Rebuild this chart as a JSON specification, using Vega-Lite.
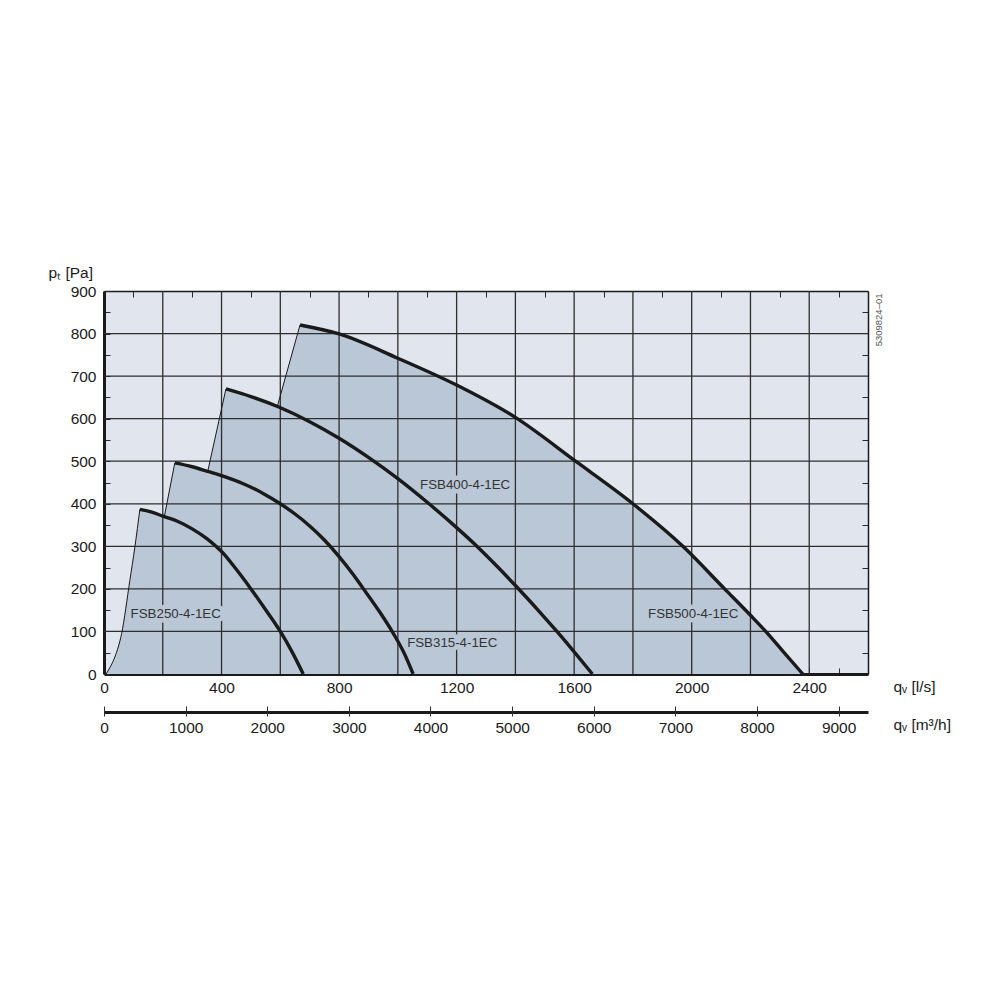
{
 "$schema": "https://vega.github.io/schema/vega-lite/v6.json",
 "autosize": {"type": "none"},
 "padding": {"left": 104, "top": 291, "right": 132, "bottom": 326},
 "width": 764,
 "height": 383,
 "background": "#ffffff",
 "config": {
  "view": {"fill": "#e1e6ee", "stroke": null},
  "font": "Liberation Sans",
  "axis": {"labelFont": "Liberation Sans", "labelFontSize": 15.5, "labelColor": "#1a1a1a", "titleFont": "Liberation Sans", "titleFontSize": 15.5, "titleFontWeight": "normal", "titleColor": "#1a1a1a", "domainColor": "#1a1a1a", "tickColor": "#2a2a2a", "tickWidth": 1, "grid": false, "labelOverlap": false, "labelBound": false, "labelFlush": false, "zindex": 1, "format": "d"}
 },
 "datasets": {
  "fills": [
   {"fan": "FSB250", "q": 7, "p": 0}, {"fan": "FSB250", "q": 20, "p": 15}, {"fan": "FSB250", "q": 37, "p": 40}, {"fan": "FSB250", "q": 60, "p": 95}, {"fan": "FSB250", "q": 88, "p": 220}, {"fan": "FSB250", "q": 105, "p": 298}, {"fan": "FSB250", "q": 122, "p": 387}, {"fan": "FSB250", "q": 160, "p": 381}, {"fan": "FSB250", "q": 200, "p": 371}, {"fan": "FSB250", "q": 250, "p": 359}, {"fan": "FSB250", "q": 300, "p": 341}, {"fan": "FSB250", "q": 350, "p": 318}, {"fan": "FSB250", "q": 381, "p": 300}, {"fan": "FSB250", "q": 400, "p": 288}, {"fan": "FSB250", "q": 450, "p": 246}, {"fan": "FSB250", "q": 500, "p": 200}, {"fan": "FSB250", "q": 550, "p": 151}, {"fan": "FSB250", "q": 600, "p": 100}, {"fan": "FSB250", "q": 640, "p": 52}, {"fan": "FSB250", "q": 678, "p": 0},
   {"fan": "FSB315", "q": 99, "p": 0}, {"fan": "FSB315", "q": 241, "p": 496}, {"fan": "FSB315", "q": 300, "p": 487}, {"fan": "FSB315", "q": 349, "p": 477}, {"fan": "FSB315", "q": 400, "p": 466}, {"fan": "FSB315", "q": 474, "p": 447}, {"fan": "FSB315", "q": 540, "p": 425}, {"fan": "FSB315", "q": 600, "p": 400}, {"fan": "FSB315", "q": 650, "p": 376}, {"fan": "FSB315", "q": 700, "p": 348}, {"fan": "FSB315", "q": 750, "p": 315}, {"fan": "FSB315", "q": 800, "p": 276}, {"fan": "FSB315", "q": 850, "p": 232}, {"fan": "FSB315", "q": 880, "p": 203}, {"fan": "FSB315", "q": 939, "p": 145}, {"fan": "FSB315", "q": 984, "p": 96}, {"fan": "FSB315", "q": 1020, "p": 51}, {"fan": "FSB315", "q": 1052, "p": 0},
   {"fan": "FSB400", "q": 200, "p": 0}, {"fan": "FSB400", "q": 415, "p": 670}, {"fan": "FSB400", "q": 500, "p": 652}, {"fan": "FSB400", "q": 593, "p": 628}, {"fan": "FSB400", "q": 700, "p": 593}, {"fan": "FSB400", "q": 800, "p": 554}, {"fan": "FSB400", "q": 900, "p": 509}, {"fan": "FSB400", "q": 1000, "p": 459}, {"fan": "FSB400", "q": 1106, "p": 400}, {"fan": "FSB400", "q": 1200, "p": 344}, {"fan": "FSB400", "q": 1268, "p": 301}, {"fan": "FSB400", "q": 1335, "p": 255}, {"fan": "FSB400", "q": 1400, "p": 208}, {"fan": "FSB400", "q": 1480, "p": 148}, {"fan": "FSB400", "q": 1545, "p": 97}, {"fan": "FSB400", "q": 1605, "p": 48}, {"fan": "FSB400", "q": 1662, "p": 0},
   {"fan": "FSB500", "q": 336, "p": 0}, {"fan": "FSB500", "q": 667, "p": 820}, {"fan": "FSB500", "q": 800, "p": 799}, {"fan": "FSB500", "q": 1000, "p": 742}, {"fan": "FSB500", "q": 1200, "p": 679}, {"fan": "FSB500", "q": 1400, "p": 603}, {"fan": "FSB500", "q": 1605, "p": 500}, {"fan": "FSB500", "q": 1800, "p": 400}, {"fan": "FSB500", "q": 1970, "p": 300}, {"fan": "FSB500", "q": 2112, "p": 200}, {"fan": "FSB500", "q": 2200, "p": 138}, {"fan": "FSB500", "q": 2248, "p": 103}, {"fan": "FSB500", "q": 2310, "p": 54}, {"fan": "FSB500", "q": 2378, "p": 0}
  ],
  "curves": [
   {"fan": "FSB250", "q": 122, "p": 387}, {"fan": "FSB250", "q": 160, "p": 381}, {"fan": "FSB250", "q": 200, "p": 371}, {"fan": "FSB250", "q": 250, "p": 359}, {"fan": "FSB250", "q": 300, "p": 341}, {"fan": "FSB250", "q": 350, "p": 318}, {"fan": "FSB250", "q": 381, "p": 300}, {"fan": "FSB250", "q": 400, "p": 288}, {"fan": "FSB250", "q": 450, "p": 246}, {"fan": "FSB250", "q": 500, "p": 200}, {"fan": "FSB250", "q": 550, "p": 151}, {"fan": "FSB250", "q": 600, "p": 100}, {"fan": "FSB250", "q": 640, "p": 52}, {"fan": "FSB250", "q": 678, "p": 0},
   {"fan": "FSB315", "q": 241, "p": 496}, {"fan": "FSB315", "q": 300, "p": 487}, {"fan": "FSB315", "q": 349, "p": 477}, {"fan": "FSB315", "q": 400, "p": 466}, {"fan": "FSB315", "q": 474, "p": 447}, {"fan": "FSB315", "q": 540, "p": 425}, {"fan": "FSB315", "q": 600, "p": 400}, {"fan": "FSB315", "q": 650, "p": 376}, {"fan": "FSB315", "q": 700, "p": 348}, {"fan": "FSB315", "q": 750, "p": 315}, {"fan": "FSB315", "q": 800, "p": 276}, {"fan": "FSB315", "q": 850, "p": 232}, {"fan": "FSB315", "q": 880, "p": 203}, {"fan": "FSB315", "q": 939, "p": 145}, {"fan": "FSB315", "q": 984, "p": 96}, {"fan": "FSB315", "q": 1020, "p": 51}, {"fan": "FSB315", "q": 1052, "p": 0},
   {"fan": "FSB400", "q": 415, "p": 670}, {"fan": "FSB400", "q": 500, "p": 652}, {"fan": "FSB400", "q": 593, "p": 628}, {"fan": "FSB400", "q": 700, "p": 593}, {"fan": "FSB400", "q": 800, "p": 554}, {"fan": "FSB400", "q": 900, "p": 509}, {"fan": "FSB400", "q": 1000, "p": 459}, {"fan": "FSB400", "q": 1106, "p": 400}, {"fan": "FSB400", "q": 1200, "p": 344}, {"fan": "FSB400", "q": 1268, "p": 301}, {"fan": "FSB400", "q": 1335, "p": 255}, {"fan": "FSB400", "q": 1400, "p": 208}, {"fan": "FSB400", "q": 1480, "p": 148}, {"fan": "FSB400", "q": 1545, "p": 97}, {"fan": "FSB400", "q": 1605, "p": 48}, {"fan": "FSB400", "q": 1662, "p": 0},
   {"fan": "FSB500", "q": 667, "p": 820}, {"fan": "FSB500", "q": 800, "p": 799}, {"fan": "FSB500", "q": 1000, "p": 742}, {"fan": "FSB500", "q": 1200, "p": 679}, {"fan": "FSB500", "q": 1400, "p": 603}, {"fan": "FSB500", "q": 1605, "p": 500}, {"fan": "FSB500", "q": 1800, "p": 400}, {"fan": "FSB500", "q": 1970, "p": 300}, {"fan": "FSB500", "q": 2112, "p": 200}, {"fan": "FSB500", "q": 2200, "p": 138}, {"fan": "FSB500", "q": 2248, "p": 103}, {"fan": "FSB500", "q": 2310, "p": 54}, {"fan": "FSB500", "q": 2378, "p": 0}
  ],
  "edges": [
   {"fan": "FSB250", "q": 7, "p": 0}, {"fan": "FSB250", "q": 20, "p": 15}, {"fan": "FSB250", "q": 37, "p": 40}, {"fan": "FSB250", "q": 60, "p": 95}, {"fan": "FSB250", "q": 88, "p": 220}, {"fan": "FSB250", "q": 105, "p": 298}, {"fan": "FSB250", "q": 122, "p": 387},
   {"fan": "FSB315", "q": 205, "p": 369}, {"fan": "FSB315", "q": 241, "p": 496},
   {"fan": "FSB400", "q": 353, "p": 476}, {"fan": "FSB400", "q": 415, "p": 670},
   {"fan": "FSB500", "q": 590, "p": 629}, {"fan": "FSB500", "q": 667, "p": 820}
  ],
  "labels": [
   {"name": "FSB250-4-1EC", "q": 244, "p": 140},
   {"name": "FSB315-4-1EC", "q": 1185, "p": 74},
   {"name": "FSB400-4-1EC", "q": 1229, "p": 444},
   {"name": "FSB500-4-1EC", "q": 2005, "p": 142}
  ],
  "gridx": [{"q": 200}, {"q": 400}, {"q": 600}, {"q": 800}, {"q": 1000}, {"q": 1200}, {"q": 1400}, {"q": 1600}, {"q": 1800}, {"q": 2000}, {"q": 2200}, {"q": 2400}],
  "gridy": [{"p": 100}, {"p": 200}, {"p": 300}, {"p": 400}, {"p": 500}, {"p": 600}, {"p": 700}, {"p": 800}],
  "m3h": [{"m3h": 0}, {"m3h": 9360}]
 },
 "layer": [
  {
   "layer": [
    {
     "data": {"name": "fills"},
     "mark": {"type": "area", "fill": "#bac7d6", "stroke": null},
     "encoding": {
      "x": {"field": "q", "type": "quantitative", "scale": {"domain": [0, 2600], "nice": false, "zero": false},
       "axis": {"orient": "bottom", "values": [0,100,200,300,400,500,600,700,800,900,1000,1100,1200,1300,1400,1500,1600,1700,1800,1900,2000,2100,2200,2300,2400,2500,2600], "labelExpr": "datum.value % 400 === 0 ? datum.label : ''", "tickSize": -6, "domainWidth": 3, "labelPadding": 12, "title": "qᵥ [l/s]", "titleAngle": 0, "titleAlign": "left", "titleBaseline": "middle", "titleX": 789, "titleY": 12}},
      "y": {"field": "p", "type": "quantitative", "stack": null, "scale": {"domain": [0, 900], "nice": false, "zero": false},
       "axis": {"orient": "left", "values": [0,50,100,150,200,250,300,350,400,450,500,550,600,650,700,750,800,850,900], "labelExpr": "datum.value % 100 === 0 ? datum.label : ''", "tickSize": -6, "domainWidth": 3, "labelPadding": 14, "title": "pₜ [Pa]", "titleAngle": 0, "titleAlign": "left", "titleBaseline": "middle", "titleX": -56, "titleY": -19}},
      "detail": {"field": "fan"}
     }
    },
    {
     "data": {"name": "gridx"},
     "mark": {"type": "rule", "color": "#2e2e2e", "strokeWidth": 1.3},
     "encoding": {
      "x": {"field": "q", "type": "quantitative", "scale": {"domain": [0, 2600], "nice": false, "zero": false},
       "axis": {"orient": "top", "values": [100,300,500,700,900,1100,1300,1500,1700,1900,2100,2300,2500], "labels": false, "tickSize": -6, "domainWidth": 1.5, "title": null}}
     }
    },
    {
     "data": {"name": "gridy"},
     "mark": {"type": "rule", "color": "#2e2e2e", "strokeWidth": 1.3},
     "encoding": {
      "y": {"field": "p", "type": "quantitative", "scale": {"domain": [0, 900], "nice": false, "zero": false},
       "axis": {"orient": "right", "values": [50,150,250,350,450,550,650,750,850], "labels": false, "tickSize": -6, "domainWidth": 1.5, "title": "5309824–01", "titleFontSize": 9.5, "titleColor": "#555555", "titleAngle": 270, "titleAlign": "right", "titleBaseline": "middle", "titleX": 10, "titleY": 2}}
     }
    },
    {
     "data": {"name": "labels"},
     "mark": {"type": "text", "font": "Liberation Sans", "fontSize": 13.3, "fill": "#bac7d6", "stroke": "#bac7d6", "strokeWidth": 9, "strokeJoin": "round"},
     "encoding": {
      "x": {"field": "q", "type": "quantitative", "scale": {"domain": [0, 2600], "nice": false, "zero": false}, "axis": null},
      "y": {"field": "p", "type": "quantitative", "scale": {"domain": [0, 900], "nice": false, "zero": false}, "axis": null},
      "text": {"field": "name"}
     }
    },
    {
     "data": {"name": "labels"},
     "mark": {"type": "text", "font": "Liberation Sans", "fontSize": 13.3, "fill": "#333333"},
     "encoding": {
      "x": {"field": "q", "type": "quantitative", "scale": {"domain": [0, 2600], "nice": false, "zero": false}, "axis": null},
      "y": {"field": "p", "type": "quantitative", "scale": {"domain": [0, 900], "nice": false, "zero": false}, "axis": null},
      "text": {"field": "name"}
     }
    },
    {
     "data": {"name": "edges"},
     "mark": {"type": "line", "color": "#1a1a1a", "strokeWidth": 1, "interpolate": "monotone"},
     "encoding": {
      "x": {"field": "q", "type": "quantitative", "scale": {"domain": [0, 2600], "nice": false, "zero": false}, "axis": null},
      "y": {"field": "p", "type": "quantitative", "scale": {"domain": [0, 900], "nice": false, "zero": false}, "axis": null},
      "detail": {"field": "fan"}
     }
    },
    {
     "data": {"name": "curves"},
     "mark": {"type": "line", "color": "#1a1a1a", "strokeWidth": 3.4, "strokeJoin": "round", "interpolate": "monotone"},
     "encoding": {
      "x": {"field": "q", "type": "quantitative", "scale": {"domain": [0, 2600], "nice": false, "zero": false}, "axis": null},
      "y": {"field": "p", "type": "quantitative", "scale": {"domain": [0, 900], "nice": false, "zero": false}, "axis": null},
      "detail": {"field": "fan"}
     }
    }
   ],
   "resolve": {"axis": {"x": "independent", "y": "independent"}}
  },
  {
   "data": {"name": "m3h"},
   "layer": [
    {
     "mark": {"type": "point", "opacity": 0},
     "encoding": {
      "x": {"field": "m3h", "type": "quantitative", "scale": {"domain": [0, 9360], "nice": false, "zero": false},
       "axis": {"orient": "bottom", "offset": 38, "values": [0,1000,2000,3000,4000,5000,6000,7000,8000,9000], "ticks": false, "domainWidth": 3, "labelPadding": 8, "title": "qᵥ [m³/h]", "titleAngle": 0, "titleAlign": "left", "titleBaseline": "middle", "titleX": 789, "titleY": 12}}
     }
    },
    {
     "mark": {"type": "point", "opacity": 0},
     "encoding": {
      "x": {"field": "m3h", "type": "quantitative", "scale": {"domain": [0, 9360], "nice": false, "zero": false},
       "axis": {"orient": "bottom", "offset": 32, "values": [0,1000,2000,3000,4000,5000,6000,7000,8000,9000], "domain": false, "labels": false, "tickSize": 10, "title": null}}
     }
    }
   ],
   "resolve": {"axis": {"x": "independent"}}
  }
 ],
 "resolve": {"scale": {"x": "independent"}, "axis": {"x": "independent", "y": "independent"}}
}
